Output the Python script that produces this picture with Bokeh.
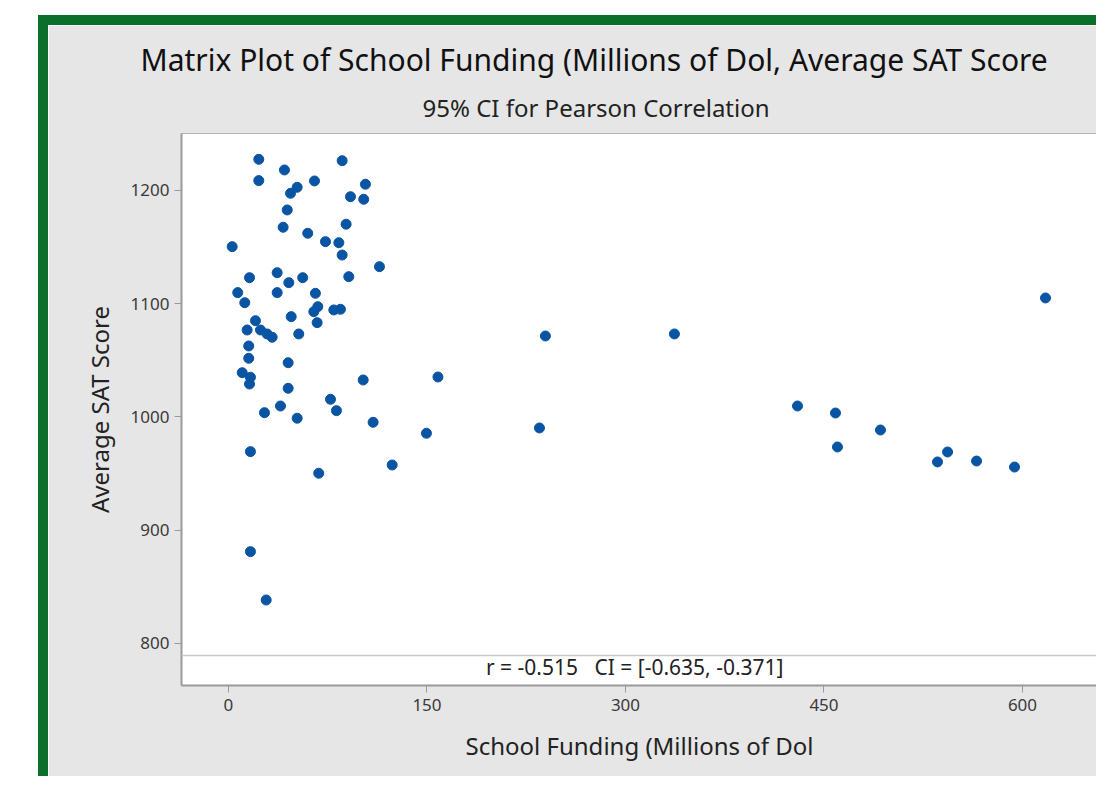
from bokeh.plotting import figure
from bokeh.models import Title, FixedTicker, Span, Label, Range1d
from bokeh.embed import file_html
from bokeh.resources import INLINE

# ---- data ----
funding = [22.9, 85.9, 42.3, 22.9, 65.0, 103.5, 51.9, 46.9, 92.2, 102.2,
           44.4, 88.9, 41.3, 59.9, 73.3, 83.4, 2.8, 85.9, 114.1, 36.8,
           90.9, 15.9, 45.6, 56.1, 7.0, 36.8, 65.7, 12.3, 67.5, 64.5,
           79.6, 84.6, 47.4, 20.4, 67.0, 14.1, 24.2, 29.2, 33.0, 53.1,
           15.3, 15.3, 45.1, 10.4, 16.6, 15.9, 101.8, 158.3, 45.1, 77.1,
           81.6, 39.3, 27.2, 51.9, 109.3, 149.6, 16.6, 68.2, 123.7, 16.6,
           28.5, 235.0, 239.5, 337.0, 430.0, 458.7, 460.2, 492.7, 535.8, 543.4,
           565.3, 594.0, 617.4]
sat = [1227.5, 1226.3, 1218.1, 1208.7, 1208.4, 1205.5, 1202.8, 1197.5, 1194.5, 1192.2,
       1182.8, 1170.2, 1167.5, 1162.2, 1154.8, 1153.9, 1150.4, 1143.0, 1132.7, 1127.4,
       1123.9, 1123.0, 1118.6, 1123.0, 1109.8, 1109.8, 1109.2, 1100.9, 1097.4, 1093.0,
       1094.5, 1095.1, 1088.6, 1085.0, 1083.3, 1076.8, 1076.8, 1073.3, 1070.4, 1073.3,
       1062.7, 1051.8, 1047.9, 1039.1, 1035.1, 1029.1, 1032.7, 1035.3, 1025.3, 1015.6,
       1005.6, 1009.7, 1003.8, 998.9, 995.3, 985.6, 969.4, 950.3, 957.6, 881.1,
       838.4, 990.3, 1071.5, 1073.3, 1009.7, 1003.5, 973.5, 988.5, 960.3, 969.1,
       961.1, 955.8, 1105.1]
x_ticks = [0, 150, 300, 450, 600]
y_ticks = [800, 900, 1000, 1100, 1200]
main_title = "Matrix Plot of School Funding (Millions of Dol, Average SAT Score"
sub_title = "95% CI for Pearson Correlation"
x_label = "School Funding (Millions of Dol"
y_label = "Average SAT Score"
corr_text = "r = -0.515\u00a0\u00a0\u00a0CI = [-0.635, -0.371]"

FONT = "Noto Sans"
GRAY_BG = "#e6e6e6"
GREEN = "#0b6e2a"

p = figure(width=1058, height=761, output_backend="svg", toolbar_location=None,
           x_range=Range1d(-35.5, 656.7), y_range=Range1d(762.9, 1250.3),
           min_border_left=133, min_border_right=9, min_border_top=108,
           min_border_bottom=101)
p.margin = (15, 0, 0, 38)
p.styles = {"border-top": f"10px solid {GREEN}", "border-left": f"10px solid {GREEN}"}

p.background_fill_color = "white"
p.border_fill_color = GRAY_BG
p.outline_line_color = "#b4b4b4"
p.xgrid.visible = False
p.ygrid.visible = False

p.add_layout(Title(text=sub_title, align="left", offset=241, text_font=FONT,
                   text_font_size="24px", text_font_style="normal",
                   text_color="#222222", standoff=19, text_line_height=0.82), "above")
p.add_layout(Title(text=main_title, align="left", offset=-41, text_font=FONT,
                   text_font_size="30px", text_font_style="normal",
                   text_color="#111111", standoff=0, text_line_height=0.82), "above")

for ax in (p.xaxis[0], p.yaxis[0]):
    ax.axis_line_color = "#9a9a9a"
    ax.axis_line_width = 2
    ax.major_tick_line_color = "#9a9a9a"
    ax.major_tick_out = 7
    ax.major_tick_in = 0
    ax.minor_tick_line_color = None
    ax.major_label_text_font = FONT
    ax.major_label_text_font_size = "17px"
    ax.major_label_text_color = "#3a3a3a"
    ax.axis_label_text_font = FONT
    ax.axis_label_text_font_size = "24px"
    ax.axis_label_text_font_style = "normal"
    ax.axis_label_text_color = "#222222"

p.xaxis.ticker = FixedTicker(ticks=x_ticks)
p.yaxis.ticker = FixedTicker(ticks=y_ticks)
p.xaxis.axis_label = x_label
p.yaxis.axis_label = y_label
p.xaxis.major_label_standoff = 6
p.yaxis.major_label_standoff = 5
p.xaxis.axis_label_standoff = 15
p.yaxis.axis_label_standoff = 12

p.add_layout(Span(location=789.4, dimension="width", line_color="#c8c8c8", line_width=1.5))
p.add_layout(Label(x=307.0, y=778.8, text=corr_text, text_align="center",
                   text_baseline="middle", text_font=FONT, text_font_size="21px",
                   text_color="#222222"))

p.scatter(funding, sat, size=10, color="#0a55a3", line_color="#0a55a3")

open("out.html", "w").write(file_html(p, INLINE))
